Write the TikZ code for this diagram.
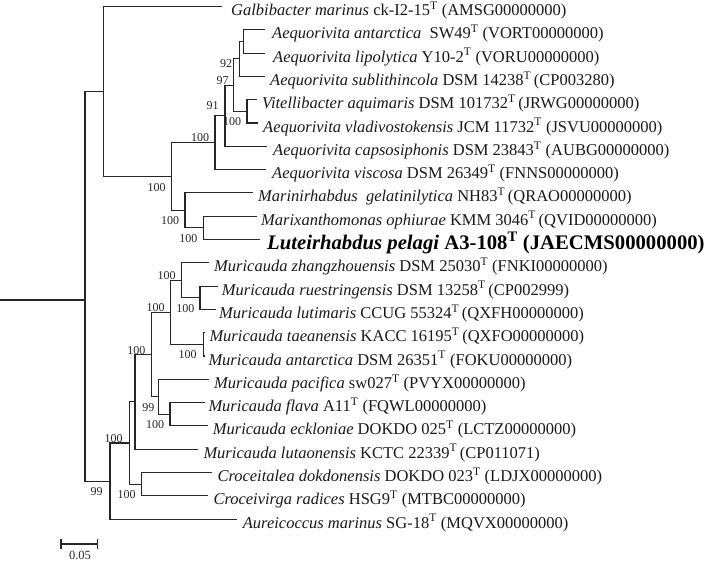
\documentclass[tikz,border=0pt]{standalone}
\usepackage{fontspec}
\setmainfont{Liberation Serif}
\newcommand{\tsup}{\textsuperscript{T}}
\begin{document}
\begin{tikzpicture}[x=1pt,y=-1pt,
  branch/.style={line width=1.1pt, black!85},
  tiplabel/.style={anchor=base west, inner sep=0pt, text=black!90, font=\fontsize{16.5}{16.5}\selectfont},
  boldlabel/.style={anchor=base west, inner sep=0pt, text=black, font=\fontsize{20.7}{20.7}\selectfont\bfseries},
  boot/.style={inner sep=0pt, text=black!85, font=\fontsize{12}{12}\selectfont},
  scalelabel/.style={inner sep=0pt, text=black!85, font=\fontsize{12.5}{13}\selectfont}]
\fill[white] (0,0) rectangle (711,566);
\useasboundingbox (0,0) rectangle (711,566);

% tip ends
\coordinate (t0) at (222,6.5);
\coordinate (t1) at (265,29.8);
\coordinate (t2) at (265,53.1);
\coordinate (t3) at (265,76.4);
\coordinate (t4) at (257,99.7);
\coordinate (t5) at (258,123.0);
\coordinate (t6) at (267,146.3);
\coordinate (t7) at (266,169.6);
\coordinate (t8) at (253,192.9);
\coordinate (t9) at (257,216.2);
\coordinate (t10) at (260,239.5);
\coordinate (t11) at (209.3,262.8);
\coordinate (t12) at (217.7,286.1);
\coordinate (t13) at (216,309.4);
\coordinate (t14) at (205,332.7);
\coordinate (t15) at (205,356.0);
\coordinate (t16) at (209,379.3);
\coordinate (t17) at (205,402.6);
\coordinate (t18) at (208,425.9);
\coordinate (t19) at (198.3,449.2);
\coordinate (t20) at (211.7,472.5);
\coordinate (t21) at (208.3,495.8);
\coordinate (t22) at (236.7,519.1);

% internal nodes
\coordinate (F) at (243.3,41.45);
\coordinate (G) at (239.3,58.9);
\coordinate (E) at (247,111.35);
\coordinate (D) at (233.3,85.1);
\coordinate (C) at (225,115.7);
\coordinate (B) at (215,142.65);
\coordinate (I) at (203.3,227.85);
\coordinate (H) at (185,210.4);
\coordinate (A) at (171.7,176.5);
\coordinate (T) at (103.3,91.5);
\coordinate (K) at (200,297.75);
\coordinate (J) at (181.7,280.3);
\coordinate (M) at (203.3,344.35);
\coordinate (L) at (170.7,312.3);
\coordinate (Q) at (170,414.25);
\coordinate (P) at (158.3,396.8);
\coordinate (N) at (151.7,354.55);
\coordinate (O) at (135,401.9);
\coordinate (U) at (141.7,484.15);
\coordinate (R) at (129.3,443.0);
\coordinate (S) at (110,481.05);
\coordinate (Z) at (85,300);
\coordinate (root) at (0,300);

% branches
\draw[branch] (root) -- (Z);
\draw[branch] (Z) |- (T);
\draw[branch] (Z) |- (S);
\draw[branch] (T) |- (t0);
\draw[branch] (T) |- (A);
\draw[branch] (A) |- (B);
\draw[branch] (A) |- (H);
\draw[branch] (B) |- (C);
\draw[branch] (B) |- (t7);
\draw[branch] (C) |- (D);
\draw[branch] (C) |- (t6);
\draw[branch] (D) |- (G);
\draw[branch] (D) |- (E);
\draw[branch] (G) |- (F);
\draw[branch] (G) |- (t3);
\draw[branch] (F) |- (t1);
\draw[branch] (F) |- (t2);
\draw[branch] (E) |- (t4);
\draw[branch] (E) |- (t5);
\draw[branch] (H) |- (t8);
\draw[branch] (H) |- (I);
\draw[branch] (I) |- (t9);
\draw[branch] (I) |- (t10);
\draw[branch] (S) |- (R);
\draw[branch] (S) |- (t22);
\draw[branch] (R) |- (O);
\draw[branch] (R) |- (U);
\draw[branch] (U) |- (t20);
\draw[branch] (U) |- (t21);
\draw[branch] (O) |- (N);
\draw[branch] (O) |- (t19);
\draw[branch] (N) |- (L);
\draw[branch] (N) |- (P);
\draw[branch] (L) |- (J);
\draw[branch] (L) |- (M);
\draw[branch] (J) |- (t11);
\draw[branch] (J) |- (K);
\draw[branch] (K) |- (t12);
\draw[branch] (K) |- (t13);
\draw[branch] (M) |- (t14);
\draw[branch] (M) |- (t15);
\draw[branch] (P) |- (t16);
\draw[branch] (P) |- (Q);
\draw[branch] (Q) |- (t17);
\draw[branch] (Q) |- (t18);

% tip labels
\node[tiplabel] (n0) at (231,15.5) {\textit{Galbibacter marinus} ck-I2-15\tsup{} (AMSG00000000)};
\node[tiplabel] (n1) at (272,38.8) {\textit{Aequorivita antarctica}\ \ SW49\tsup{} (VORT00000000)};
\node[tiplabel] (n2) at (273,62.1) {\textit{Aequorivita lipolytica} Y10-2\tsup{} (VORU00000000)};
\node[tiplabel] (n3) at (270,85.4) {\textit{Aequorivita sublithincola} DSM 14238\tsup\,(CP003280)};
\node[tiplabel] (n4) at (262,108.7) {\textit{Vitellibacter aquimaris} DSM 101732\tsup\,(JRWG00000000)};
\node[tiplabel] (n5) at (263,132.0) {\textit{Aequorivita vladivostokensis} JCM 11732\tsup{} (JSVU00000000)};
\node[tiplabel] (n6) at (273,155.3) {\textit{Aequorivita capsosiphonis} DSM 23843\tsup{} (AUBG00000000)};
\node[tiplabel] (n7) at (272,178.6) {\textit{Aequorivita viscosa} DSM 26349\tsup{} (FNNS00000000)};
\node[tiplabel] (n8) at (258,201.9) {\textit{Marinirhabdus\ \ gelatinilytica} NH83\tsup\,(QRAO00000000)};
\node[tiplabel] (n9) at (261,225.2) {\textit{Marixanthomonas ophiurae} KMM 3046\tsup\,(QVID00000000)};
\node[boldlabel] (n10) at (267,249.5) {\textit{Luteirhabdus pelagi} A3-108\tsup{} (JAECMS00000000)};
\node[tiplabel] (n11) at (214,271.8) {\textit{Muricauda zhangzhouensis} DSM 25030\tsup{} (FNKI00000000)};
\node[tiplabel] (n12) at (221.7,295.1) {\textit{Muricauda ruestringensis} DSM 13258\tsup\,(CP002999)};
\node[tiplabel] (n13) at (219,318.4) {\textit{Muricauda lutimaris} CCUG 55324\tsup\,(QXFH00000000)};
\node[tiplabel] (n14) at (209.3,341.7) {\textit{Muricauda taeanensis} KACC 16195\tsup\,(QXFO00000000)};
\node[tiplabel] (n15) at (208.3,365.0) {\textit{Muricauda antarctica} DSM 26351\tsup{} (FOKU00000000)};
\node[tiplabel] (n16) at (214,388.3) {\textit{Muricauda pacifica} sw027\tsup{} (PVYX00000000)};
\node[tiplabel] (n17) at (208.3,411.6) {\textit{Muricauda flava} A11\tsup{} (FQWL00000000)};
\node[tiplabel] (n18) at (212.7,434.9) {\textit{Muricauda eckloniae} DOKDO 025\tsup{} (LCTZ00000000)};
\node[tiplabel] (n19) at (203.3,458.2) {\textit{Muricauda lutaonensis} KCTC 22339\tsup\,(CP011071)};
\node[tiplabel] (n20) at (217.3,481.5) {\textit{Croceitalea dokdonensis} DOKDO 023\tsup{} (LDJX00000000)};
\node[tiplabel] (n21) at (213.3,504.8) {\textit{Croceivirga radices} HSG9\tsup{} (MTBC00000000)};
\node[tiplabel] (n22) at (242.7,528.1) {\textit{Aureicoccus marinus} SG-18\tsup{} (MQVX00000000)};

% bootstrap values
\node[boot] (bG) at (226,64) {92};
\node[boot] (bD) at (222.5,81) {97};
\node[boot] (bC) at (212.5,106) {91};
\node[boot] (bE) at (232,122) {100};
\node[boot] (bB) at (200,138) {100};
\node[boot] (bA) at (156.7,188) {100};
\node[boot] (bH) at (170,221) {100};
\node[boot] (bI) at (188.3,238.5) {100};
\node[boot] (bJ) at (166.7,276) {100};
\node[boot] (bK) at (185.3,308.3) {100};
\node[boot] (bL) at (155.7,307.5) {100};
\node[boot] (bM) at (187.7,355) {100};
\node[boot] (bN) at (136.3,350.5) {100};
\node[boot] (bP) at (148.3,407.5) {99};
\node[boot] (bQ) at (155,425) {100};
\node[boot] (bR) at (113.7,438.3) {100};
\node[boot] (bS) at (96.7,491.7) {99};
\node[boot] (bU) at (126.7,495) {100};

% scale bar
\coordinate (sb1) at (61,544);
\coordinate (sb2) at (97.3,544);
\draw[branch] (sb1) -- (sb2);
\draw[branch] ([yshift=-5pt]sb1) -- ([yshift=5pt]sb1);
\draw[branch] ([yshift=-5pt]sb2) -- ([yshift=5pt]sb2);
\node[scalelabel] (sbl) at (80,555.5) {0.05};
\end{tikzpicture}
\end{document}
